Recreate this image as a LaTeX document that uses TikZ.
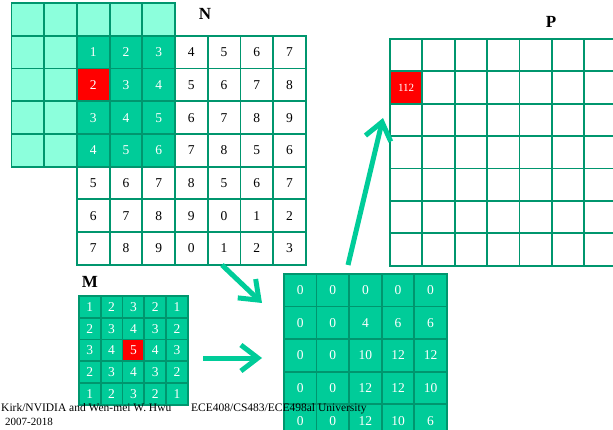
\documentclass[tikz,border=0pt]{standalone}
\usepackage{fontspec}
\setmainfont{Liberation Serif}
\usetikzlibrary{arrows.meta}
\definecolor{lightteal}{RGB}{140,255,220}
\definecolor{tealfill}{RGB}{0,204,153}
\definecolor{edgegreen}{RGB}{0,150,110}
\begin{document}
\begin{tikzpicture}[x=1pt,y=-1pt,
  cellbase/.style={draw=edgegreen, line width=1.8pt, inner sep=0pt, anchor=north west},
  cellN/.style={cellbase, minimum size=32.7pt, font=\fontsize{13.5}{14}\selectfont},
  cellM/.style={cellbase, minimum size=21.8pt, fill=tealfill, text=white, font=\fontsize{13.5}{14}\selectfont},
  cellO/.style={cellbase, minimum size=32.6pt, fill=tealfill, text=white, font=\fontsize{13.5}{14}\selectfont},
  cellP/.style={cellbase, minimum size=32.4pt, fill=white},
  lbl/.style={font=\fontsize{17}{18}\selectfont\bfseries, inner sep=0pt},
  foot/.style={font=\fontsize{11.5}{12}\selectfont, inner sep=0pt},
  bigarrow/.style={draw=tealfill, line width=5pt, -{Straight Barb[length=17pt,width=26pt]}}
]
\useasboundingbox (0,0) rectangle (613,430);
% ghost mask over N
\foreach \r in {-1,...,3}{
  \foreach \c in {-2,...,2}{
    \node[cellN, fill=lightteal] (G\r\c) at ({76+\c*32.7},{35+\r*32.7}) {};
  }}
% N
\foreach \row [count=\r from 0] in {{1,2,3,4,5,6,7},{2,3,4,5,6,7,8},{3,4,5,6,7,8,9},{4,5,6,7,8,5,6},{5,6,7,8,5,6,7},{6,7,8,9,0,1,2},{7,8,9,0,1,2,3}}{
  \foreach \v [count=\c from 0] in \row {
    \def\fc{white}\def\tc{black}
    \ifnum\r<4 \ifnum\c<3 \def\fc{tealfill}\def\tc{white}\fi\fi
    \ifnum\r=1 \ifnum\c=0 \def\fc{red}\fi\fi
    \node[cellN, fill=\fc, text=\tc] (N-\r-\c) at ({76+\c*32.7},{35+\r*32.7}) {\v};
  }}
\node[lbl] (Nlbl) at (205,14) {N};
% P
\foreach \r in {0,...,6}{
  \foreach \c in {0,...,6}{
    \node[cellP] (P-\r-\c) at ({389+\c*32.4},{38+\r*32.4}) {};
  }}
\node[cellP, fill=red, text=white, font=\fontsize{11}{12}\selectfont] (P-1-0) at (389,70.4) {112};
\node[lbl] (Plbl) at (551,22) {P};
% M
\foreach \row [count=\r from 0] in {{1,2,3,2,1},{2,3,4,3,2},{3,4,5,4,3},{2,3,4,3,2},{1,2,3,2,1}}{
  \foreach \v [count=\c from 0] in \row {
    \def\fc{tealfill}
    \ifnum\r=2 \ifnum\c=2 \def\fc{red}\fi\fi
    \node[cellM, fill=\fc] (M-\r-\c) at ({78+\c*21.8},{295+\r*21.8}) {\v};
  }}
\node[lbl] (Mlbl) at (90,282) {M};
% output tile
\foreach \row [count=\r from 0] in {{0,0,0,0,0},{0,0,4,6,6},{0,0,10,12,12},{0,0,12,12,10},{0,0,12,10,6}}{
  \foreach \v [count=\c from 0] in \row {
    \node[cellO] (O-\r-\c) at ({283+\c*32.6},{273+\r*32.6}) {\v};
  }}
% arrows
\coordinate (a1s) at (222,265);
\coordinate (a1e) at (262,303);
\coordinate (a2s) at (203,358);
\coordinate (a2e) at (262,358);
\coordinate (a3s) at (348,265);
\coordinate (a3e) at (383,118);
\draw[bigarrow] (a1s) -- (a1e);
\draw[bigarrow] (a2s) -- (a2e);
\draw[bigarrow] (a3s) -- (a3e);
% footer
\node[foot, anchor=base west] (f1) at (1,411) {Kirk/NVIDIA and Wen-mei W. Hwu};
\node[foot, anchor=base west] (f2) at (191,411) {ECE408/CS483/ECE498al University};
\node[foot, anchor=base west, font=\fontsize{11}{12}\selectfont] (f3) at (5,425) {2007-2018};
\end{tikzpicture}
\end{document}
